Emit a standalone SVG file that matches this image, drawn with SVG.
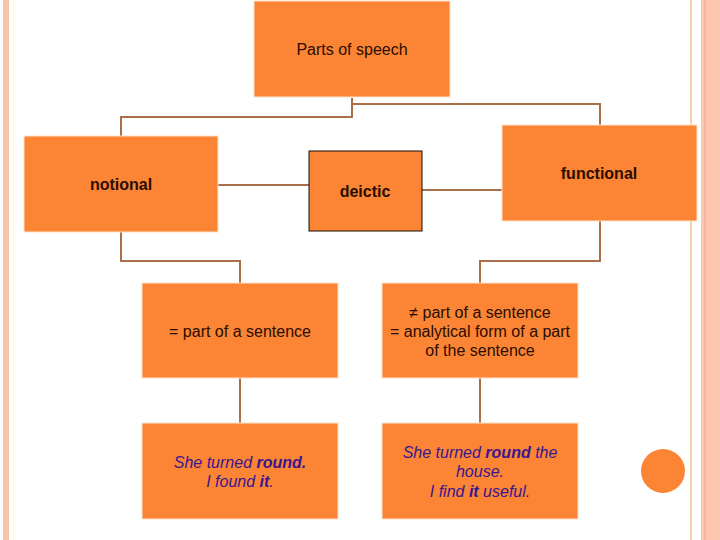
<svg xmlns="http://www.w3.org/2000/svg" width="720" height="540" viewBox="0 0 720 540">
<style>
.box{fill:#fc8535;stroke:#fde3c8;stroke-width:1}
.con{fill:none;stroke:#a8704a;stroke-width:2}
.t{font-family:"Liberation Sans",Arial,sans-serif;font-size:16px;fill:#2a0d00;text-anchor:middle}
.b{font-weight:bold}
.ex{font-family:"Liberation Sans",Arial,sans-serif;font-size:16px;font-style:italic;fill:#3a1590;text-anchor:middle}
</style>
<rect width="720" height="540" fill="#ffffff"/>
<rect x="3" y="0" width="6" height="540" fill="#fcc3ac"/>
<line x1="14" y1="0" x2="14" y2="540" stroke="#fdf0d8" stroke-width="1"/>
<line x1="691" y1="0" x2="691" y2="540" stroke="#f8cdb8" stroke-width="2"/>
<rect x="701" y="0" width="19" height="540" fill="#fcc6b0"/>
<line x1="705" y1="0" x2="705" y2="540" stroke="#f6b49c" stroke-width="2"/>
<g id="connectors">
<polyline class="con" points="352,98 352,117 121,117 121,136"/>
<polyline class="con" points="352,104 600,104 600,125"/>
<line class="con" x1="218" y1="185" x2="309" y2="185" stroke-width="1.5"/>
<line class="con" x1="422" y1="190" x2="502" y2="190" stroke-width="1.5"/>
<polyline class="con" points="121,232 121,261 240,261 240,283"/>
<polyline class="con" points="600,221 600,261 480,261 480,283"/>
<line class="con" x1="240" y1="378" x2="240" y2="423"/>
<line class="con" x1="480" y1="378" x2="480" y2="423"/>
</g>
<g id="parts"><rect class="box" x="254" y="1" width="196" height="96"/><text class="t" x="352" y="55">Parts of speech</text></g>
<g id="notional"><rect class="box" x="24" y="136" width="194" height="96"/><text class="t b" x="121" y="190">notional</text></g>
<g id="deictic"><rect x="309" y="151" width="113" height="80" fill="#fc8535" stroke="#1a0a00" stroke-width="1"/><text class="t b" x="365" y="197" font-size="18">deictic</text></g>
<g id="functional"><rect class="box" x="502" y="125" width="195" height="96"/><text class="t b" x="599" y="179">functional</text></g>
<g id="eq"><rect class="box" x="142" y="283" width="196" height="95"/><text class="t" x="240" y="337">= part of a sentence</text></g>
<g id="neq"><rect class="box" x="382" y="283" width="196" height="95"/><text class="t" x="480" y="318">≠ part of a sentence</text><text class="t" x="480" y="337">= analytical form of a part</text><text class="t" x="480" y="356">of the sentence</text></g>
<g id="ex1"><rect class="box" x="142" y="423" width="196" height="96"/><text class="ex" x="240" y="468">She turned <tspan font-weight="bold">round.</tspan></text><text class="ex" x="240" y="487">I found <tspan font-weight="bold">it</tspan>.</text></g>
<g id="ex2"><rect class="box" x="382" y="423" width="196" height="96"/><text class="ex" x="480" y="458">She turned <tspan font-weight="bold">round</tspan> the</text><text class="ex" x="480" y="477">house.</text><text class="ex" x="480" y="497">I find <tspan font-weight="bold">it</tspan> useful.</text></g>
<circle cx="663" cy="471" r="22" fill="#fc8535"/>
</svg>
